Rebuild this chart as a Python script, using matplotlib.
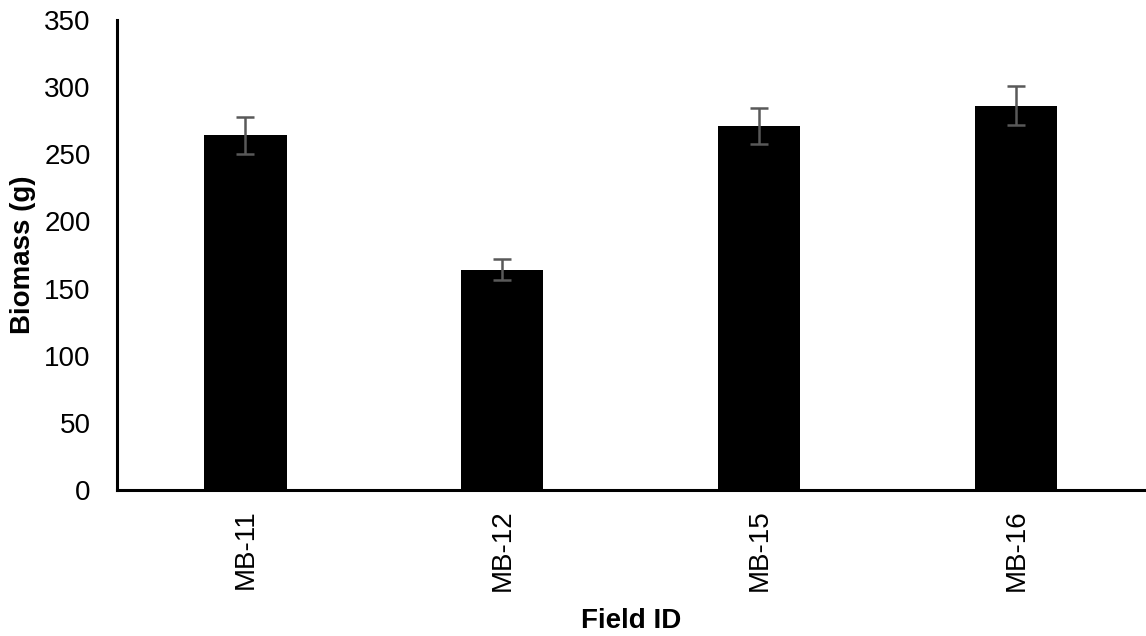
import numpy as np
import matplotlib.pyplot as plt

plt.rcParams['font.family'] = ['Liberation Sans', 'DejaVu Sans']

# 数据
fields = ['MB-11', 'MB-12', 'MB-15', 'MB-16']
biomass = [264, 164, 271, 286]
err = [13.5, 8, 13.5, 14.5]

fig = plt.figure(figsize=(11.46, 6.36), dpi=100)
ax = fig.add_axes([0.102, 0.2296, 0.897, 0.739])

x = np.arange(len(fields))
ax.bar(x, biomass, width=0.32, color='black',
       yerr=err, ecolor='#595959',
       error_kw=dict(elinewidth=1.8, capsize=6.5, capthick=1.8))

ax.set_xlim(-0.5, len(fields) - 0.5)
ax.set_ylim(0, 350)
ax.set_yticks(range(0, 351, 50))
ax.set_xticks(x)
ax.set_xticklabels(fields, rotation=90)
ax.tick_params(axis='both', length=0, labelsize=20)
ax.tick_params(axis='y', pad=19)
ax.tick_params(axis='x', pad=14)

# 轴线
ax.spines['right'].set_visible(False)
ax.spines['top'].set_visible(False)
ax.spines['left'].set_linewidth(2.2)
ax.spines['bottom'].set_linewidth(2.2)

ax.set_ylabel('Biomass (g)', fontsize=20, fontweight='bold', labelpad=6)
ax.set_xlabel('Field ID', fontsize=20, fontweight='bold', labelpad=12)

fig.savefig('out.png', dpi=100)
